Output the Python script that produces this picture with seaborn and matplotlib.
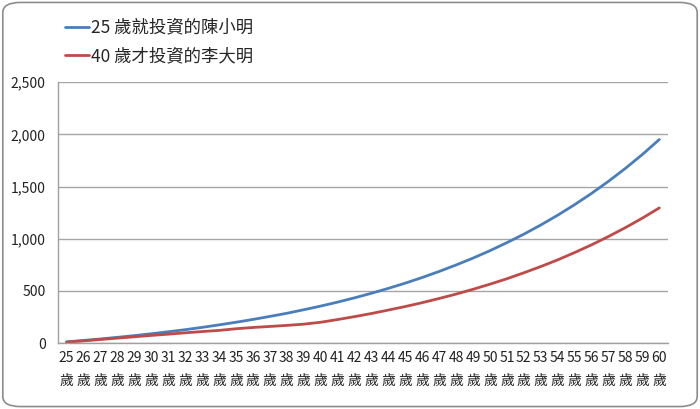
import numpy as np
import pandas as pd
import seaborn as sns
import matplotlib.pyplot as plt
from matplotlib.patches import FancyBboxPatch
from matplotlib.ticker import FuncFormatter, FixedLocator

ages = list(range(25, 61))
chen_values = [12, 26, 40, 56, 72, 90, 109, 129, 151, 175, 200, 227, 256, 286, 320, 355,
               393, 434, 478, 525, 575, 629, 687, 749, 815, 886, 963, 1044, 1132, 1226,
               1327, 1435, 1551, 1675, 1808, 1951]
li_values = [10, 22, 35, 48, 61, 74, 86, 99, 111, 122, 138, 150, 160, 170, 182, 200,
             226, 254, 284, 317, 351, 388, 428, 470, 516, 565, 617, 674, 734, 798,
             868, 942, 1022, 1107, 1198, 1296]
series_names = ['25 歲就投資的陳小明', '40 歲才投資的李大明']
colors = ['#4A7EBB', '#BE4B48']

sns.set_style('white')
plt.rcParams['font.family'] = ['Noto Sans CJK TC', 'DejaVu Sans']

df = pd.DataFrame({
    'age': ages * 2,
    'value': chen_values + li_values,
    'who': [series_names[0]] * len(ages) + [series_names[1]] * len(ages),
})

fig = plt.figure(figsize=(7, 4.09), dpi=100)
border = FancyBboxPatch((0.004, 0.006), 0.992, 0.988, boxstyle='round,pad=0,rounding_size=0.025',
                        transform=fig.transFigure, fill=False, edgecolor='#8C8C8C', linewidth=1.2)
fig.patches.append(border)

ax = fig.add_axes([0.083, 0.161, 0.871, 0.638])
sns.lineplot(data=df, x='age', y='value', hue='who', palette=colors, linewidth=2, ax=ax)

ax.set_xlim(24.5, 60.5)
ax.set_ylim(0, 2500)
ax.set_yticks(range(0, 2501, 500))
ax.yaxis.set_major_formatter(FuncFormatter(lambda v, p: f'{int(v):,}'))
ax.set_xticks(ages)
ax.set_xticklabels([f'{a}\n歲' for a in ages], linespacing=1.75)
ax.xaxis.set_minor_locator(FixedLocator(np.arange(24.5, 61, 1)))
ax.tick_params(axis='x', which='major', length=0, pad=6, labelsize=10, labelcolor='#222222')
ax.tick_params(axis='x', which='minor', length=5, color='#A0A0A0', width=1, direction='out')
ax.tick_params(axis='y', length=5, color='#A0A0A0', width=1, labelsize=10, pad=4, labelcolor='#222222')
ax.grid(axis='y', color='#A6A6A6', linewidth=1)
ax.set_axisbelow(True)
for side in ['top', 'right']:
    ax.spines[side].set_visible(False)
for side in ['left', 'bottom']:
    ax.spines[side].set_color('#A0A0A0')
    ax.spines[side].set_linewidth(1)
ax.set_xlabel('')
ax.set_ylabel('')

ax.legend(loc='upper left', bbox_to_anchor=(0.0, 1.27), frameon=False, fontsize=12.5,
          handlelength=1.4, handletextpad=0.1, labelspacing=0.6, borderaxespad=0)

fig.savefig('out.png', dpi=100)
